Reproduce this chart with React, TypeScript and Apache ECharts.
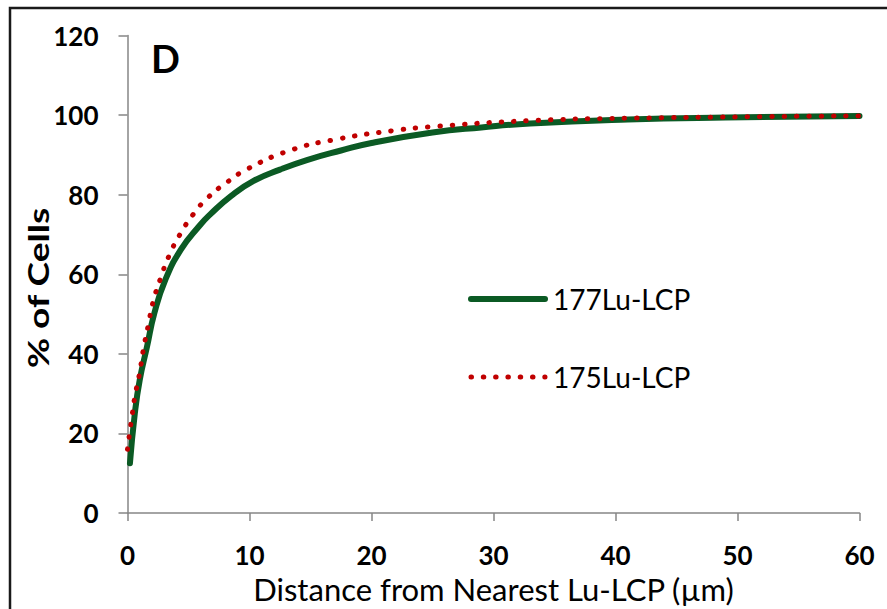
import React, { useEffect, useRef } from "react";
import * as echarts from "echarts";

const seriesNames = ["177Lu-LCP", "175Lu-LCP"];

const lu177X = [0.2, 0.6, 1.0, 1.6, 2.2, 3.1, 4.4, 5.9, 6.8, 8.5, 10.3, 12.5, 14.7, 17.5, 20, 25, 29, 33, 41, 49, 60];
const lu177Y = [12.5, 25, 33.4, 41.8, 50.2, 58.6, 66.3, 72.2, 75.1, 79.7, 83.4, 86.3, 88.7, 91.1, 93, 95.6, 96.9, 97.9, 98.9, 99.4, 99.8];

const lu175X = [0, 0.2, 0.4, 0.6, 1.0, 1.3, 1.7, 2.1, 2.7, 3.4, 4.3, 5.4, 6.6, 8.1, 9.8, 13.3, 17.1, 21.8, 25, 33, 41, 52, 60];
const lu175Y = [16, 20.7, 25, 29.2, 35.3, 41.1, 47.2, 53.1, 58.9, 64.6, 70, 75.1, 79.3, 83, 86.4, 91.1, 93.9, 96.1, 97.1, 98.6, 99.2, 99.6, 99.8];

const xTicks = { min: 0, max: 60, interval: 10 };
const yTicks = { min: 0, max: 120, interval: 20 };

const FONT = "Lato";
const AXIS_GRAY = "#868686";

export default function App() {
  const ref = useRef<HTMLDivElement>(null);
  useEffect(() => {
    if (!ref.current) return;
    const chart = echarts.init(ref.current, undefined, { renderer: "svg" });
    const pairs = (xs: number[], ys: number[]) => xs.map((x, i) => [x, ys[i]]);
    chart.setOption({
      animation: false,
      backgroundColor: "#ffffff",
      textStyle: { fontFamily: FONT },
      grid: { left: 127.5, right: 27.5, top: 35.5, bottom: 96, outerBoundsMode: "none" },
      legend: {
        orient: "vertical",
        left: 463,
        top: 279,
        itemWidth: 74,
        itemHeight: 12,
        itemGap: 48,
        data: seriesNames,
        lineStyle: { width: "inherit", type: "inherit", cap: "inherit" },
        itemStyle: { color: "transparent", borderWidth: 0, opacity: 0 },
        textStyle: { fontFamily: FONT, fontSize: 28, color: "#000", lineHeight: 30, padding: [0, 0, 0, 3] },
      },
      xAxis: {
        type: "value",
        min: xTicks.min,
        max: xTicks.max,
        interval: xTicks.interval,
        name: "Distance from Nearest Lu-LCP (µm)",
        nameLocation: "middle",
        nameGap: 60,
        nameTextStyle: { fontFamily: FONT, fontSize: 31, color: "#000" },
        axisLine: { show: true, lineStyle: { color: AXIS_GRAY, width: 1.5 } },
        axisTick: { show: true, length: 8, lineStyle: { color: AXIS_GRAY, width: 1.5 } },
        axisLabel: { fontFamily: FONT, fontSize: 26, fontWeight: "bold", color: "#000", margin: 29 },
        splitLine: { show: false },
      },
      yAxis: {
        type: "value",
        min: yTicks.min,
        max: yTicks.max,
        interval: yTicks.interval,
        axisLine: { show: true, lineStyle: { color: AXIS_GRAY, width: 1.5 } },
        axisTick: { show: true, length: 9, lineStyle: { color: AXIS_GRAY, width: 1.5 } },
        axisLabel: { fontFamily: FONT, fontSize: 26, fontWeight: "bold", color: "#000", margin: 29 },
        splitLine: { show: false },
      },
      graphic: [
        {
          type: "rect",
          shape: { x: 10, y: 8, width: 950, height: 700 },
          style: { fill: "none", stroke: "#1a1a1a", lineWidth: 2.5 },
          silent: true,
        },
        {
          type: "text",
          x: 151,
          y: 58,
          style: { text: "D", font: `bold 38px ${FONT}`, fill: "#000", verticalAlign: "middle", align: "left" },
        },
        {
          type: "text",
          x: 38,
          y: 288,
          rotation: Math.PI / 2,
          scaleX: 1.28,
          style: { text: "% of Cells", font: `bold 29px ${FONT}`, fill: "#000", verticalAlign: "middle", align: "center" },
        },
      ],
      series: [
        {
          name: seriesNames[0],
          type: "line",
          data: pairs(lu177X, lu177Y),
          smooth: 0.5,
          symbol: "none",
          showSymbol: false,
          lineStyle: { color: "#0b5a24", width: 6, cap: "round" },
          itemStyle: { color: "#0b5a24" },
          z: 2,
        },
        {
          name: seriesNames[1],
          type: "line",
          data: pairs(lu175X, lu175Y),
          smooth: 0.5,
          symbol: "none",
          showSymbol: false,
          lineStyle: { color: "#c00000", width: 5, type: [0.5, 11.8], cap: "round" },
          itemStyle: { color: "#c00000" },
          z: 3,
        },
      ],
    });
    return () => chart.dispose();
  }, []);
  return (
    <div
      ref={ref}
      style={{ position: "fixed", left: 0, top: 0, width: 887, height: 609 }}
    />
  );
}
